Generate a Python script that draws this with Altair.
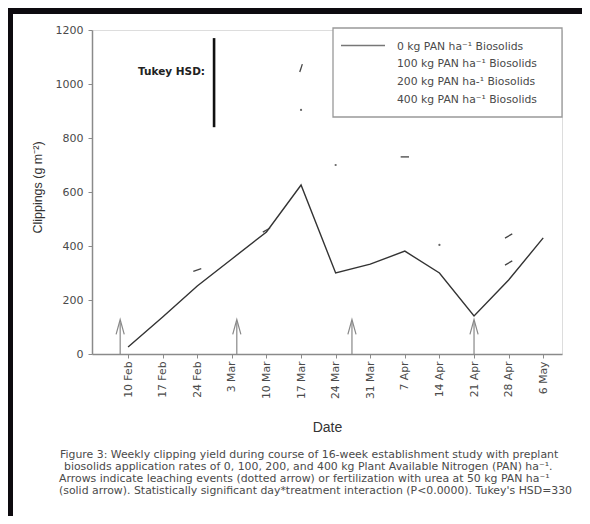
import altair as alt
import pandas as pd

# ---- data -------------------------------------------------------------
week_labels = ["10 Feb", "17 Feb", "24 Feb", "3 Mar", "10 Mar", "17 Mar", "24 Mar",
               "31 Mar", "7 Apr", "14 Apr", "21 Apr", "28 Apr", "6 May"]
days = [0, 7, 14, 21, 28, 35, 42, 49, 56, 63, 70, 77, 84]
clip_0kg = [26, 137, 252, 352, 452, 626, 300, 333, 381, 300, 141, 274, 430]

# visible fragments of the other treatment series
frag_day = [35, 56, 77, 77, 14, 28]
frag_val = [1059, 730, 437, 337, 311, 459]
frag_ang = [288, 0, 330, 330, 342, 330]
dot_day = [35, 42, 63]
dot_val = [904, 700, 404]

# arrows (leaching / fertilization events)
arrow_day = [-1.6, 22, 45.3, 70]
arrow_top = [118, 118, 118, 118]
arrow_head = [100, 100, 100, 100]

# Tukey HSD bar
hsd_day = [17.4]
hsd_lo = [840]
hsd_hi = [1170]
hsd_label_y = [1044]

legend_labels = ["0 kg PAN ha\u207b\u00b9 Biosolids", "100 kg PAN ha\u207b\u00b9 Biosolids",
                 "200 kg PAN ha-\u00b9 Biosolids", "400 kg PAN ha\u207b\u00b9 Biosolids"]
caption = [
    "Figure 3: Weekly clipping yield during course of 16-week establishment study with preplant",
    "biosolids application rates of 0, 100, 200, and 400 kg Plant Available Nitrogen (PAN) ha\u207b\u00b9.",
    "Arrows indicate leaching events (dotted arrow) or fertilization with urea at 50 kg PAN ha\u207b\u00b9",
    "(solid arrow). Statistically significant day*treatment interaction (P<0.0000). Tukey's HSD=330",
]

FONT = "Liberation Sans"
WIDE = "DejaVu Sans"
AX = "#8a8a8a"
TXT = "#4a4a4a"

df = pd.DataFrame({"day": days, "val": clip_0kg})
frag = pd.DataFrame({"day": frag_day, "val": frag_val, "ang": frag_ang})
dots = pd.DataFrame({"day": dot_day, "val": dot_val})
arr = pd.DataFrame({"day": arrow_day, "val": [0] * 4, "top": arrow_top, "head": arrow_head})
hsd = pd.DataFrame({"day": hsd_day, "val": hsd_lo, "hi": hsd_hi, "ly": hsd_label_y})

label_expr = "[" + ",".join("'%s'" % s for s in week_labels) + "][round(datum.value/7)]"

xs = alt.Scale(domain=[-7.3, 87.8], nice=False, zero=False)
ys = alt.Scale(domain=[0, 1200], nice=False)

x_axis = alt.Axis(values=days, labelExpr=label_expr, labelAngle=270, labelFontSize=10.8,
                  labelColor=TXT, labelFont=WIDE, tickSize=4, tickColor=AX,
                  domainColor=AX, domainWidth=1.5, labelPadding=3, labelOverlap=False,
                  title="Date", titleFont=FONT, titleFontSize=14, titleFontWeight="normal",
                  titleColor="#333", titleY=73, titleBaseline="middle", grid=False)
y_axis = alt.Axis(values=[0, 200, 400, 600, 800, 1000, 1200], format="d", labelFontSize=11,
                  labelColor=TXT, labelFont=WIDE, tickSize=4, tickColor=AX,
                  domainColor=AX, domainWidth=1.5, labelPadding=5, labelOverlap=False,
                  title="Clippings (g m\u207b\u00b2)", titleFont=FONT, titleFontSize=12.5,
                  titleFontWeight="normal", titleColor="#333", titleX=-55, titleY=157,
                  titleAngle=270, titleAlign="center", titleBaseline="middle", grid=False)


def X():
    return alt.X("day:Q", scale=xs, axis=x_axis)


def Y(f="val"):
    return alt.Y(f + ":Q", scale=ys, axis=y_axis)


line = alt.Chart(df).mark_line(color="#333", strokeWidth=1.4).encode(x=X(), y=Y())

frags = alt.Chart(frag).mark_point(shape="stroke", color="#444", strokeWidth=1.3,
                                   size=70, opacity=1).encode(
    x=X(), y=Y(), angle=alt.Angle("ang:Q", scale=None))
dotm = alt.Chart(dots).mark_point(shape="circle", filled=True, color="#666", size=5,
                                  opacity=1).encode(x=X(), y=Y())

shaft = alt.Chart(arr).mark_rule(color="#888", strokeWidth=1.2).encode(
    x=X(), y=Y(), y2="top:Q")
head = alt.Chart(arr).mark_point(shape="M -0.55 1 L 0 -1 L 0.55 1", filled=False,
                                 color="#888", strokeWidth=1.2, size=220, opacity=1).encode(
    x=X(), y=Y("head"))

hsd_bar = alt.Chart(hsd).mark_rule(color="#111", strokeWidth=2.6).encode(
    x=X(), y=Y(), y2="hi:Q")
hsd_txt = alt.Chart(hsd).mark_text(text="Tukey HSD:", font=WIDE, fontSize=10.5,
                                   fontWeight="bold", align="right", baseline="middle",
                                   color="#222", dx=-9).encode(x=X(), y=Y("ly"))

one = pd.DataFrame({"a": [0]})

# legend box
leg_box = alt.Chart(one).mark_rect(fill="white", stroke="#999", strokeWidth=1.3).encode(
    x=alt.value(241), x2=alt.value(470), y=alt.value(-2), y2=alt.value(87))
leg_line = alt.Chart(one).mark_rule(color="#777", strokeWidth=1.6).encode(
    x=alt.value(249), x2=alt.value(293), y=alt.value(15.5))
leg_rows = [16.5, 34, 52, 70]
leg_txt = [
    alt.Chart(one).mark_text(text=lab, font=WIDE, fontSize=10.8, align="left",
                             baseline="middle", color=TXT).encode(
        x=alt.value(305), y=alt.value(yy))
    for lab, yy in zip(legend_labels, leg_rows)
]

# figure frame
frame_top = alt.Chart(one).mark_rect(color="#0d0a0f").encode(
    x=alt.value(-84), x2=alt.value(490), y=alt.value(-22), y2=alt.value(-16))
frame_left = alt.Chart(one).mark_rect(color="#0d0a0f").encode(
    x=alt.value(-84), x2=alt.value(-79), y=alt.value(-22), y2=alt.value(486))

cap_rows = [425, 437.3, 449.3, 461.3]
cap_x = [-32, -28, -33, -33]
cap = [
    alt.Chart(one).mark_text(text=t, font=WIDE, fontSize=10.9, align="left",
                             baseline="middle", color=TXT).encode(
        x=alt.value(xx), y=alt.value(yy))
    for t, yy, xx in zip(caption, cap_rows, cap_x)
]

chart = alt.layer(
    line, shaft, head, frags, dotm, hsd_bar, hsd_txt, leg_box, leg_line, *leg_txt,
    frame_top, frame_left, *cap
).properties(
    width=470, height=324, autosize=alt.AutoSizeParams(type="none"),
    padding={"left": 84, "top": 22, "right": 20, "bottom": 162},
).configure_view(stroke=AX, strokeWidth=1.5).configure(background="white")

chart.save("out.html", embed_options={"renderer": "svg", "actions": False})
